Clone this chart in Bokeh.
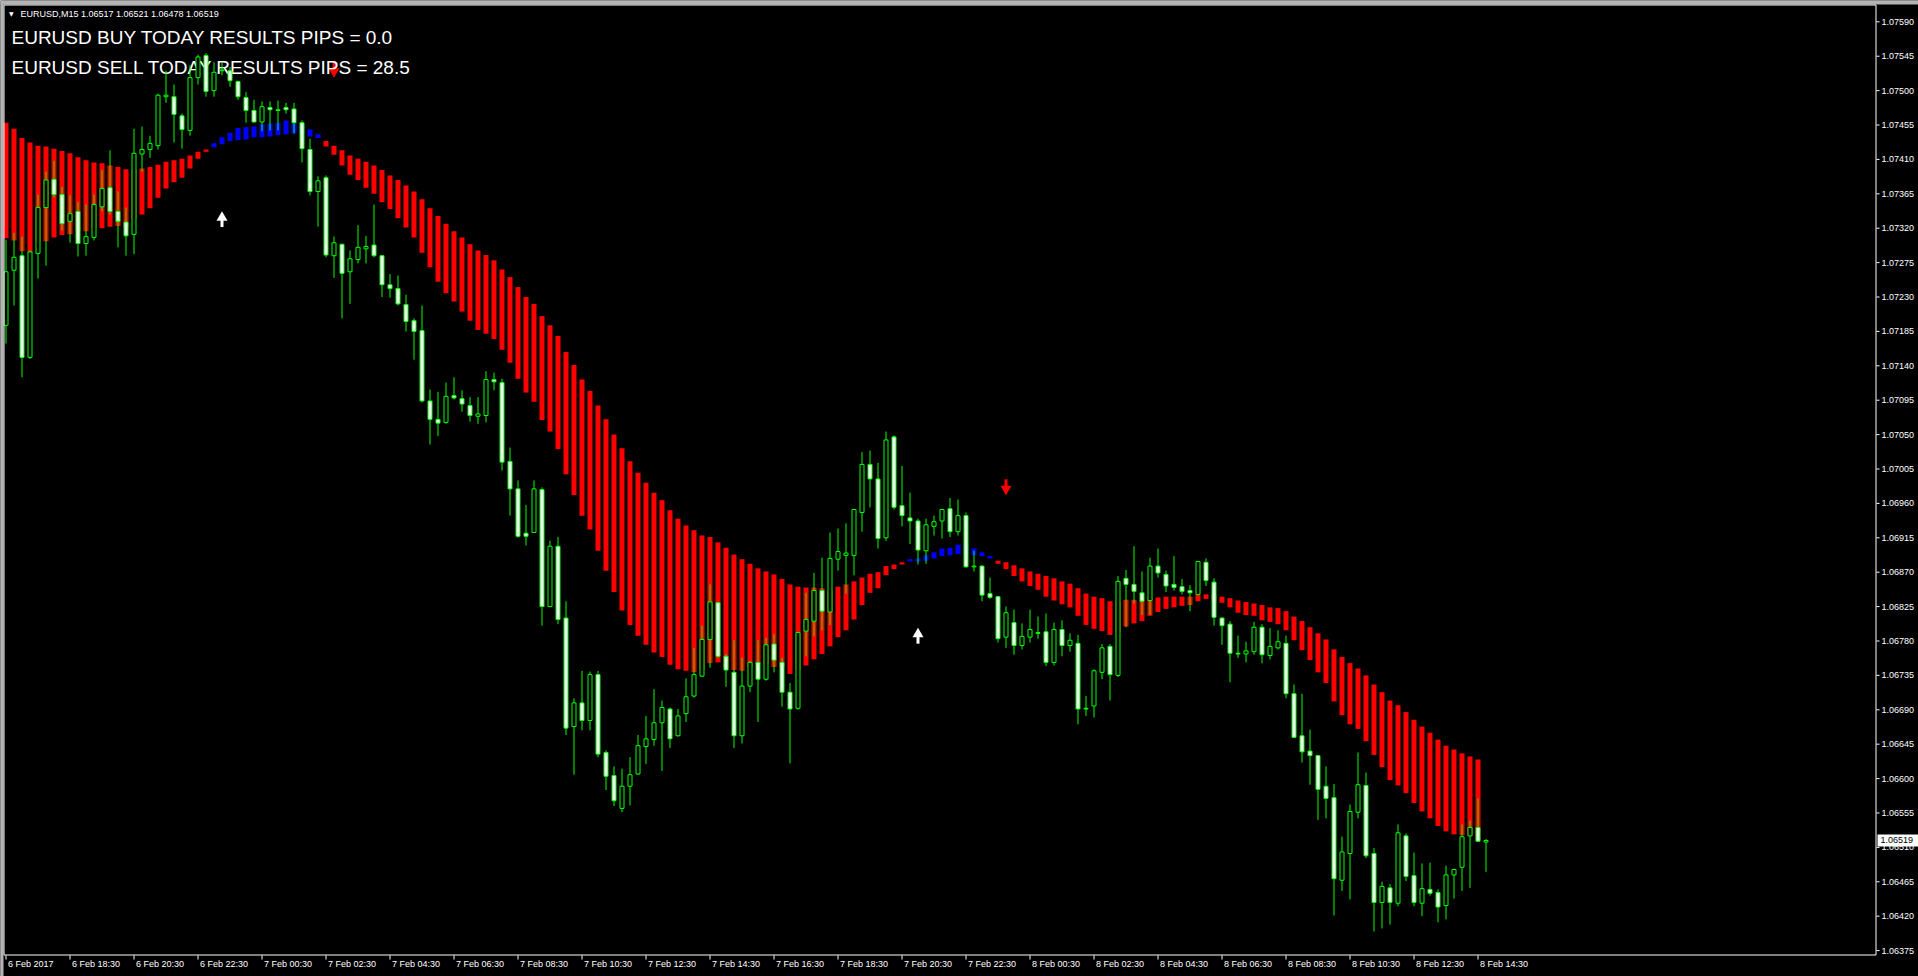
from bokeh.plotting import figure
from bokeh.models import Range1d, ColumnDataSource
from bokeh.core.properties import value
from bokeh.embed import file_html
from bokeh.resources import INLINE

# ---------------- data (EURUSD M15, bars indexed from 6 Feb 2017 16:30) ----------------
bar_open = [1.07193, 1.07265, 1.07284, 1.07151, 1.07287, 1.07347, 1.07384, 1.07364, 1.07329, 1.07342,
            1.07300, 1.07308, 1.07348, 1.07373, 1.07342, 1.07328, 1.07312, 1.07417, 1.07423, 1.07428,
            1.07492, 1.07492, 1.07467, 1.07448, 1.07517, 1.07546, 1.07500, 1.07526, 1.07526, 1.07512,
            1.07491, 1.07474, 1.07459, 1.07478, 1.07474, 1.07478, 1.07476, 1.07458, 1.07423, 1.07368,
            1.07386, 1.07284, 1.07299, 1.07263, 1.07279, 1.07293, 1.07298, 1.07284, 1.07246, 1.07241,
            1.07220, 1.07199, 1.07186, 1.07094, 1.07070, 1.07066, 1.07101, 1.07097, 1.07088, 1.07074,
            1.07075, 1.07122, 1.07118, 1.07015, 1.06979, 1.06921, 1.06922, 1.06978, 1.06825, 1.06904,
            1.06810, 1.06668, 1.06699, 1.06676, 1.06736, 1.06634, 1.06604, 1.06561, 1.06590, 1.06606,
            1.06642, 1.06651, 1.06673, 1.06691, 1.06656, 1.06685, 1.06708, 1.06734, 1.06782, 1.06830,
            1.06760, 1.06739, 1.06656, 1.06721, 1.06752, 1.06730, 1.06776, 1.06752, 1.06713, 1.06692,
            1.06793, 1.06806, 1.06846, 1.06818, 1.06887, 1.06892, 1.06892, 1.06948, 1.07011, 1.06992,
            1.06915, 1.07047, 1.06957, 1.06941, 1.06937, 1.06898, 1.06930, 1.06937, 1.06953, 1.06923,
            1.06944, 1.06877, 1.06878, 1.06842, 1.06838, 1.06785, 1.06804, 1.06774, 1.06785, 1.06791,
            1.06792, 1.06752, 1.06795, 1.06774, 1.06777, 1.06692, 1.06695, 1.06739, 1.06773, 1.06735,
            1.06862, 1.06854, 1.06843, 1.06833, 1.06878, 1.06867, 1.06854, 1.06851, 1.06846, 1.06841,
            1.06883, 1.06857, 1.06810, 1.06802, 1.06764, 1.06763, 1.06766, 1.06798, 1.06761, 1.06771,
            1.06777, 1.06711, 1.06656, 1.06636, 1.06630, 1.06590, 1.06575, 1.06467, 1.06502, 1.06556,
            1.06591, 1.06502, 1.06438, 1.06457, 1.06437, 1.06525, 1.06473, 1.06437, 1.06455, 1.06451,
            1.06434, 1.06474, 1.06484, 1.06525, 1.06536, 1.06517]
bar_high = [1.07305, 1.07314, 1.07309, 1.07291, 1.07364, 1.07394, 1.07408, 1.07374, 1.07363, 1.07354,
            1.07351, 1.07364, 1.07396, 1.07422, 1.07368, 1.07347, 1.07450, 1.07453, 1.07441, 1.07496,
            1.07526, 1.07508, 1.07470, 1.07533, 1.07547, 1.07549, 1.07537, 1.07537, 1.07531, 1.07513,
            1.07498, 1.07488, 1.07486, 1.07486, 1.07487, 1.07484, 1.07484, 1.07461, 1.07437, 1.07388,
            1.07389, 1.07309, 1.07300, 1.07291, 1.07324, 1.07310, 1.07351, 1.07285, 1.07260, 1.07258,
            1.07233, 1.07202, 1.07219, 1.07109, 1.07106, 1.07118, 1.07125, 1.07108, 1.07099, 1.07099,
            1.07133, 1.07131, 1.07123, 1.07033, 1.06990, 1.06958, 1.06990, 1.06981, 1.06911, 1.06916,
            1.06832, 1.06705, 1.06741, 1.06740, 1.06741, 1.06637, 1.06616, 1.06613, 1.06628, 1.06657,
            1.06682, 1.06717, 1.06702, 1.06693, 1.06691, 1.06731, 1.06771, 1.06800, 1.06854, 1.06831,
            1.06763, 1.06781, 1.06758, 1.06754, 1.06781, 1.06784, 1.06789, 1.06758, 1.06725, 1.06792,
            1.06843, 1.06869, 1.06889, 1.06922, 1.06927, 1.06934, 1.06953, 1.07027, 1.07029, 1.07013,
            1.07054, 1.07049, 1.07009, 1.06974, 1.06940, 1.06940, 1.06944, 1.06953, 1.06967, 1.06965,
            1.06948, 1.06898, 1.06879, 1.06863, 1.06839, 1.06825, 1.06821, 1.06803, 1.06821, 1.06812,
            1.06816, 1.06804, 1.06807, 1.06790, 1.06788, 1.06708, 1.06743, 1.06776, 1.06776, 1.06865,
            1.06873, 1.06904, 1.06871, 1.06889, 1.06901, 1.06872, 1.06891, 1.06861, 1.06853, 1.06885,
            1.06888, 1.06862, 1.06811, 1.06806, 1.06787, 1.06779, 1.06805, 1.06802, 1.06797, 1.06794,
            1.06787, 1.06723, 1.06711, 1.06664, 1.06631, 1.06616, 1.06593, 1.06524, 1.06566, 1.06634,
            1.06608, 1.06509, 1.06465, 1.06462, 1.06540, 1.06528, 1.06503, 1.06489, 1.06490, 1.06455,
            1.06486, 1.06482, 1.06540, 1.06545, 1.06574, 1.06521]
bar_low = [1.07169, 1.07219, 1.07125, 1.07149, 1.07254, 1.07271, 1.07360, 1.07317, 1.07301, 1.07283,
           1.07284, 1.07304, 1.07342, 1.07338, 1.07295, 1.07284, 1.07286, 1.07394, 1.07412, 1.07423,
           1.07484, 1.07432, 1.07424, 1.07441, 1.07508, 1.07492, 1.07492, 1.07520, 1.07505, 1.07488,
           1.07458, 1.07458, 1.07447, 1.07448, 1.07448, 1.07470, 1.07444, 1.07406, 1.07363, 1.07322,
           1.07282, 1.07255, 1.07202, 1.07221, 1.07274, 1.07274, 1.07282, 1.07230, 1.07229, 1.07219,
           1.07185, 1.07148, 1.07092, 1.07037, 1.07048, 1.07064, 1.07096, 1.07080, 1.07067, 1.07064,
           1.07066, 1.07108, 1.07003, 1.06944, 1.06915, 1.06905, 1.06922, 1.06800, 1.06824, 1.06802,
           1.06657, 1.06605, 1.06663, 1.06663, 1.06628, 1.06585, 1.06564, 1.06556, 1.06565, 1.06605,
           1.06619, 1.06643, 1.06610, 1.06640, 1.06655, 1.06674, 1.06706, 1.06733, 1.06745, 1.06758,
           1.06720, 1.06640, 1.06646, 1.06713, 1.06674, 1.06728, 1.06739, 1.06694, 1.06620, 1.06690,
           1.06760, 1.06786, 1.06794, 1.06801, 1.06872, 1.06842, 1.06866, 1.06923, 1.06955, 1.06901,
           1.06911, 1.06952, 1.06930, 1.06907, 1.06880, 1.06881, 1.06918, 1.06914, 1.06916, 1.06918,
           1.06876, 1.06871, 1.06832, 1.06835, 1.06778, 1.06771, 1.06762, 1.06769, 1.06778, 1.06783,
           1.06747, 1.06748, 1.06760, 1.06766, 1.06671, 1.06682, 1.06680, 1.06730, 1.06702, 1.06733,
           1.06798, 1.06829, 1.06814, 1.06814, 1.06863, 1.06844, 1.06846, 1.06841, 1.06819, 1.06840,
           1.06852, 1.06800, 1.06775, 1.06726, 1.06758, 1.06752, 1.06762, 1.06751, 1.06756, 1.06769,
           1.06705, 1.06653, 1.06621, 1.06592, 1.06546, 1.06548, 1.06421, 1.06453, 1.06442, 1.06548,
           1.06496, 1.06400, 1.06404, 1.06409, 1.06433, 1.06466, 1.06433, 1.06420, 1.06447, 1.06412,
           1.06416, 1.06443, 1.06453, 1.06457, 1.06517, 1.06478]
bar_close = [1.07263, 1.07282, 1.07151, 1.07289, 1.07347, 1.07383, 1.07364, 1.07326, 1.07339, 1.07300,
             1.07309, 1.07351, 1.07372, 1.07342, 1.07329, 1.07310, 1.07418, 1.07423, 1.07431, 1.07494,
             1.07494, 1.07469, 1.07449, 1.07517, 1.07544, 1.07499, 1.07524, 1.07527, 1.07513, 1.07492,
             1.07474, 1.07459, 1.07479, 1.07475, 1.07475, 1.07475, 1.07458, 1.07424, 1.07368, 1.07382,
             1.07285, 1.07301, 1.07261, 1.07280, 1.07295, 1.07296, 1.07284, 1.07246, 1.07241, 1.07221,
             1.07198, 1.07185, 1.07094, 1.07070, 1.07065, 1.07100, 1.07098, 1.07090, 1.07075, 1.07077,
             1.07122, 1.07119, 1.07014, 1.06979, 1.06917, 1.06917, 1.06979, 1.06825, 1.06904, 1.06808,
             1.06666, 1.06699, 1.06676, 1.06736, 1.06632, 1.06603, 1.06571, 1.06590, 1.06605, 1.06643,
             1.06652, 1.06673, 1.06693, 1.06652, 1.06682, 1.06707, 1.06736, 1.06782, 1.06831, 1.06760,
             1.06742, 1.06656, 1.06721, 1.06752, 1.06730, 1.06775, 1.06755, 1.06713, 1.06691, 1.06791,
             1.06808, 1.06846, 1.06819, 1.06888, 1.06897, 1.06895, 1.06952, 1.07011, 1.06992, 1.06914,
             1.07043, 1.06955, 1.06944, 1.06937, 1.06899, 1.06932, 1.06936, 1.06952, 1.06923, 1.06944,
             1.06877, 1.06878, 1.06840, 1.06837, 1.06783, 1.06817, 1.06774, 1.06786, 1.06795, 1.06790,
             1.06752, 1.06795, 1.06774, 1.06781, 1.06691, 1.06691, 1.06741, 1.06771, 1.06736, 1.06858,
             1.06854, 1.06845, 1.06832, 1.06878, 1.06869, 1.06852, 1.06850, 1.06845, 1.06843, 1.06884,
             1.06859, 1.06811, 1.06800, 1.06764, 1.06763, 1.06767, 1.06798, 1.06762, 1.06773, 1.06779,
             1.06711, 1.06654, 1.06635, 1.06630, 1.06586, 1.06574, 1.06469, 1.06504, 1.06557, 1.06592,
             1.06499, 1.06438, 1.06459, 1.06438, 1.06529, 1.06472, 1.06438, 1.06456, 1.06450, 1.06432,
             1.06474, 1.06481, 1.06524, 1.06536, 1.06518, 1.06519]

# trend histogram (top / bottom of each column), bars 0..184
trend_top = [1.07458, 1.07450, 1.07438, 1.07432, 1.07428, 1.07427, 1.07424, 1.07421, 1.07418, 1.07413,
             1.07409, 1.07406, 1.07405, 1.07402, 1.07400, 1.07397, 1.07396, 1.07398, 1.07400, 1.07403,
             1.07407, 1.07409, 1.07411, 1.07415, 1.07420, 1.07423, 1.07431, 1.07439, 1.07445, 1.07451,
             1.07452, 1.07453, 1.07456, 1.07457, 1.07458, 1.07461, 1.07457, 1.07454, 1.07449, 1.07443,
             1.07434, 1.07428, 1.07422, 1.07415, 1.07411, 1.07407, 1.07402, 1.07396, 1.07389, 1.07383,
             1.07376, 1.07368, 1.07358, 1.07346, 1.07336, 1.07326, 1.07316, 1.07308, 1.07299, 1.07291,
             1.07285, 1.07278, 1.07266, 1.07256, 1.07243, 1.07230, 1.07221, 1.07205, 1.07193, 1.07179,
             1.07158, 1.07141, 1.07122, 1.07107, 1.07088, 1.07070, 1.07050, 1.07032, 1.07015, 1.07000,
             1.06987, 1.06974, 1.06964, 1.06951, 1.06940, 1.06931, 1.06925, 1.06918, 1.06916, 1.06909,
             1.06902, 1.06893, 1.06887, 1.06881, 1.06875, 1.06871, 1.06867, 1.06861, 1.06854, 1.06851,
             1.06850, 1.06850, 1.06849, 1.06846, 1.06851, 1.06854, 1.06858, 1.06863, 1.06868, 1.06870,
             1.06878, 1.06880, 1.06883, 1.06887, 1.06888, 1.06892, 1.06896, 1.06901, 1.06902, 1.06906,
             1.06908, 1.06901, 1.06896, 1.06891, 1.06885, 1.06883, 1.06879, 1.06875, 1.06871, 1.06868,
             1.06865, 1.06862, 1.06858, 1.06855, 1.06849, 1.06842, 1.06838, 1.06836, 1.06832, 1.06832,
             1.06834, 1.06834, 1.06833, 1.06836, 1.06837, 1.06838, 1.06838, 1.06838, 1.06838, 1.06841,
             1.06841, 1.06840, 1.06838, 1.06836, 1.06833, 1.06831, 1.06829, 1.06827, 1.06824, 1.06823,
             1.06819, 1.06812, 1.06806, 1.06798, 1.06790, 1.06782, 1.06769, 1.06759, 1.06751, 1.06744,
             1.06735, 1.06723, 1.06713, 1.06702, 1.06696, 1.06687, 1.06677, 1.06668, 1.06660, 1.06651,
             1.06643, 1.06638, 1.06633, 1.06629, 1.06625]
trend_bottom = [1.07307, 1.07304, 1.07290, 1.07289, 1.07303, 1.07303, 1.07308, 1.07311, 1.07312, 1.07316,
                1.07316, 1.07320, 1.07320, 1.07322, 1.07323, 1.07321, 1.07333, 1.07338, 1.07346, 1.07360,
                1.07372, 1.07380, 1.07386, 1.07398, 1.07411, 1.07420, 1.07426, 1.07430, 1.07434, 1.07435,
                1.07436, 1.07439, 1.07439, 1.07440, 1.07442, 1.07443, 1.07444, 1.07444, 1.07440, 1.07438,
                1.07427, 1.07416, 1.07402, 1.07390, 1.07383, 1.07373, 1.07365, 1.07354, 1.07345, 1.07333,
                1.07321, 1.07308, 1.07288, 1.07269, 1.07250, 1.07235, 1.07224, 1.07211, 1.07199, 1.07187,
                1.07182, 1.07175, 1.07161, 1.07144, 1.07123, 1.07105, 1.07093, 1.07069, 1.07054, 1.07031,
                1.06998, 1.06971, 1.06944, 1.06926, 1.06898, 1.06872, 1.06844, 1.06820, 1.06801, 1.06787,
                1.06775, 1.06765, 1.06759, 1.06749, 1.06743, 1.06741, 1.06739, 1.06742, 1.06751, 1.06752,
                1.06744, 1.06742, 1.06741, 1.06746, 1.06750, 1.06750, 1.06746, 1.06746, 1.06737, 1.06742,
                1.06748, 1.06756, 1.06763, 1.06773, 1.06785, 1.06794, 1.06808, 1.06827, 1.06843, 1.06849,
                1.06866, 1.06874, 1.06880, 1.06884, 1.06884, 1.06885, 1.06888, 1.06891, 1.06892, 1.06894,
                1.06895, 1.06892, 1.06891, 1.06888, 1.06881, 1.06874, 1.06865, 1.06858, 1.06852, 1.06847,
                1.06838, 1.06833, 1.06828, 1.06824, 1.06813, 1.06801, 1.06796, 1.06793, 1.06788, 1.06791,
                1.06799, 1.06803, 1.06806, 1.06813, 1.06818, 1.06822, 1.06824, 1.06826, 1.06827, 1.06832,
                1.06835, 1.06832, 1.06830, 1.06824, 1.06817, 1.06814, 1.06813, 1.06807, 1.06805, 1.06802,
                1.06794, 1.06781, 1.06768, 1.06755, 1.06739, 1.06725, 1.06701, 1.06683, 1.06671, 1.06665,
                1.06649, 1.06631, 1.06615, 1.06598, 1.06591, 1.06581, 1.06568, 1.06557, 1.06548, 1.06538,
                1.06531, 1.06527, 1.06526, 1.06526, 1.06519]
trend_up_bars = list(range(26, 40)) + list(range(113, 124))   # blue columns

buy_arrow_bar = [27, 114]
buy_arrow_price = [1.07330, 1.06785]
sell_arrow_bar = [41, 125]
sell_arrow_price = [1.07529, 1.06983]

time_tick_bars = list(range(0, 185, 8))
time_tick_labels = ["6 Feb 2017", "6 Feb 18:30", "6 Feb 20:30", "6 Feb 22:30", "7 Feb 00:30",
                    "7 Feb 02:30", "7 Feb 04:30", "7 Feb 06:30", "7 Feb 08:30", "7 Feb 10:30",
                    "7 Feb 12:30", "7 Feb 14:30", "7 Feb 16:30", "7 Feb 18:30", "7 Feb 20:30",
                    "7 Feb 22:30", "8 Feb 00:30", "8 Feb 02:30", "8 Feb 04:30", "8 Feb 06:30",
                    "8 Feb 08:30", "8 Feb 10:30", "8 Feb 12:30", "8 Feb 14:30"]
price_ticks = [1.06375, 1.06420, 1.06465, 1.06510, 1.06555, 1.06600, 1.06645, 1.06690, 1.06735,
               1.06780, 1.06825, 1.06870, 1.06915, 1.06960, 1.07005, 1.07050, 1.07095, 1.07140,
               1.07185, 1.07230, 1.07275, 1.07320, 1.07365, 1.07410, 1.07455, 1.07500, 1.07545,
               1.07590]
price_tick_labels = ["%.5f" % v for v in price_ticks]
last_price = 1.06519
last_price_label = "1.06519"
header_text = "EURUSD,M15  1.06517 1.06521 1.06478 1.06519"
buy_text = "EURUSD BUY TODAY RESULTS PIPS = 0.0"
sell_text = "EURUSD SELL TODAY RESULTS PIPS = 28.5"

# ---------------- layout (the plot frame covers the whole canvas; MT4-style
# price scale and time scale are drawn inside it) ----------------
W, H = 1918, 976
PX_PER_BAR = 8.0
PX_PER_PRICE = 76440.0
X0 = -0.6875            # bar coordinate at the canvas' left edge
Y_TOP = 1.076179        # price at the canvas' top edge


def xd(px):             # horizontal screen pixel -> bar coordinate
    return X0 + px / PX_PER_BAR


def yd(py):             # vertical screen pixel -> price coordinate
    return Y_TOP - py / PX_PER_PRICE


PX = 1.0 / PX_PER_PRICE
CHART_L, CHART_T, CHART_R, CHART_B = 3.5, 4.5, 1875.5, 954.5
LIME = "#00FF00"
FONT = "Liberation Sans"

p = figure(width=W, height=H, output_backend="svg", toolbar_location=None, title=None,
           x_range=Range1d(xd(0), xd(W)), y_range=Range1d(yd(H), yd(0)),
           x_axis_location=None, y_axis_location=None, min_border=0,
           background_fill_color="black", border_fill_color="black", outline_line_color=None)
for g in p.grid:
    g.visible = False

# trend histogram
n_tr = len(trend_top)
tr_src = ColumnDataSource(dict(
    x=list(range(n_tr)), top=trend_top, bottom=trend_bottom,
    color=["#0000FF" if i in trend_up_bars else "#FF0000" for i in range(n_tr)]))
p.vbar(x="x", top="top", bottom="bottom", width=0.625, fill_color="color",
       line_color=None, source=tr_src)

# signal arrows
p.rect(x=buy_arrow_bar, y=[v - 3 * PX for v in buy_arrow_price], width=3, height=7,
       width_units="screen", height_units="screen", fill_color="white", line_color=None)
p.scatter(x=buy_arrow_bar, y=[v + 3 * PX for v in buy_arrow_price], marker="triangle",
          size=11, fill_color="white", line_color=None)
p.rect(x=sell_arrow_bar, y=[v + 3 * PX for v in sell_arrow_price], width=3, height=7,
       width_units="screen", height_units="screen", fill_color="#FF0000", line_color=None)
p.scatter(x=sell_arrow_bar, y=[v - 3 * PX for v in sell_arrow_price], marker="inverted_triangle",
          size=11, fill_color="#FF0000", line_color=None)

# header texts (drawn under the candles, as in the terminal)
p.text(x=[xd(11), xd(11)], y=[yd(36.5), yd(66.5)], text=[buy_text, sell_text],
       text_color="white", text_font=value(FONT), text_font_size=value("19px"),
       text_align="left", text_baseline="middle")
p.text(x=[xd(20)], y=[yd(13)], text=[header_text], text_color="white",
       text_font=value(FONT), text_font_size=value("9px"),
       text_align="left", text_baseline="middle")
p.text(x=[xd(8.5)], y=[yd(12.5)], text=["\u25BC"], text_color="white",
       text_font=value("DejaVu Sans"), text_font_size=value("6px"),
       text_align="left", text_baseline="middle")

# candles
n = len(bar_open)
c_src = ColumnDataSource(dict(
    x=list(range(n)), o=bar_open, h=bar_high, l=bar_low, c=bar_close,
    top=[max(a, b) for a, b in zip(bar_open, bar_close)],
    bot=[min(a, b) for a, b in zip(bar_open, bar_close)],
    fill=["white" if c < o else "black" for o, c in zip(bar_open, bar_close)]))
p.segment(x0="x", y0="l", x1="x", y1="h", line_color=LIME, line_width=1, source=c_src)
p.vbar(x="x", top="top", bottom="bot", width=0.5, fill_color="fill",
       line_color=LIME, line_width=1, source=c_src)

# window edge and chart frame
p.quad(left=[xd(0), xd(0)], right=[xd(3), xd(W)], top=[yd(0), yd(0)], bottom=[yd(H), yd(4)],
       fill_color="#B4B4B4", line_color=None)
p.segment(x0=[xd(CHART_L), xd(CHART_L), xd(CHART_R), xd(CHART_L)],
          y0=[yd(CHART_T), yd(CHART_T), yd(CHART_T), yd(CHART_B)],
          x1=[xd(CHART_R), xd(CHART_L), xd(CHART_R), xd(CHART_R)],
          y1=[yd(CHART_T), yd(CHART_B), yd(CHART_B), yd(CHART_B)],
          line_color="white", line_width=1)

# price scale: ticks and labels
p.segment(x0=[xd(1876)] * len(price_ticks), x1=[xd(1879)] * len(price_ticks),
          y0=price_ticks, y1=price_ticks, line_color="white", line_width=1)
p.text(x=[xd(1881)] * len(price_ticks), y=price_ticks, text=price_tick_labels,
       text_color="white", text_font=value(FONT), text_font_size=value("9px"),
       text_align="left", text_baseline="middle")

# current price marker
p.quad(left=[xd(1877)], right=[xd(W)], top=[last_price + 6 * PX], bottom=[last_price - 6 * PX],
       fill_color="white", line_color=None)
p.text(x=[xd(1880)], y=[last_price], text=[last_price_label], text_color="black",
       text_font=value(FONT), text_font_size=value("9px"),
       text_align="left", text_baseline="middle")

# time scale: ticks and labels (left-aligned at their tick)
p.segment(x0=time_tick_bars, x1=time_tick_bars, y0=[yd(955)] * len(time_tick_bars),
          y1=[yd(959)] * len(time_tick_bars), line_color="white", line_width=1)
p.text(x=time_tick_bars, y=[yd(963)] * len(time_tick_bars), text=time_tick_labels, x_offset=2,
       text_color="white", text_font=value(FONT), text_font_size=value("9px"),
       text_align="left", text_baseline="middle")

html = file_html(p, INLINE, title="EURUSD,M15")
html = html.replace("<body>", '<body style="background-color:#000000">', 1)
open("out.html", "w").write(html)
